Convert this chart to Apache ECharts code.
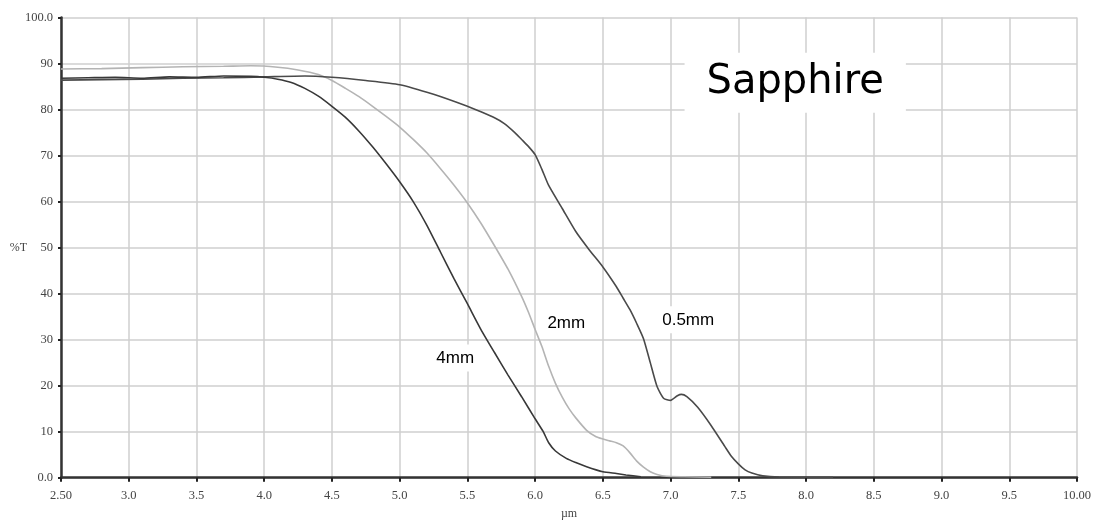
<!DOCTYPE html>
<html>
<head>
<meta charset="utf-8">
<script src="https://cdn.jsdelivr.net/npm/echarts@6/dist/echarts.min.js"></script>
<style>
html,body{margin:0;padding:0;background:#fff;}
#chart{width:1096px;height:523px;}
</style>
</head>
<body>
<div id="chart"></div>
<script>
// wavelength (µm) and transmission (%T) for each thickness
const wl4mm = [2.5, 2.7, 2.9, 3.1, 3.3, 3.5, 3.7, 3.9, 4.0, 4.1, 4.2, 4.3, 4.4, 4.5, 4.6, 4.7, 4.8, 4.9, 5.0, 5.1, 5.2, 5.3, 5.4, 5.5, 5.6, 5.7, 5.8, 5.9, 6.0, 6.06, 6.1, 6.15, 6.23, 6.3, 6.38, 6.45, 6.5, 6.6, 6.67, 6.78];
const t4mm  = [86.8, 86.9, 87.0, 86.8, 87.1, 87.0, 87.3, 87.2, 87.0, 86.6, 85.9, 84.6, 82.9, 80.7, 78.3, 75.3, 71.9, 68.2, 64.3, 60.0, 54.9, 49.1, 43.3, 37.8, 32.2, 27.2, 22.3, 17.6, 12.8, 10.0, 7.6, 5.8, 4.2, 3.3, 2.4, 1.7, 1.3, 0.9, 0.6, 0.2];

const wl2mm = [2.5, 2.8, 3.1, 3.4, 3.7, 3.9, 4.1, 4.25, 4.4, 4.5, 4.6, 4.7, 4.8, 4.9, 5.0, 5.1, 5.2, 5.3, 5.4, 5.5, 5.6, 5.7, 5.8, 5.9, 5.95, 6.0, 6.05, 6.1, 6.15, 6.2, 6.25, 6.3, 6.38, 6.45, 6.5, 6.55, 6.6, 6.65, 6.7, 6.75, 6.8, 6.85, 6.9, 6.97, 7.1, 7.3];
const t2mm  = [88.8, 88.9, 89.1, 89.3, 89.4, 89.5, 89.2, 88.6, 87.6, 86.3, 84.6, 82.8, 80.7, 78.5, 76.2, 73.5, 70.6, 67.2, 63.6, 59.7, 55.3, 50.4, 45.3, 39.4, 36.0, 32.2, 28.5, 24.2, 20.5, 17.5, 15.0, 13.0, 10.3, 8.9, 8.4, 8.0, 7.6, 6.9, 5.4, 3.6, 2.3, 1.3, 0.7, 0.3, 0.2, 0.1];

const wl05mm = [2.5, 2.8, 3.1, 3.4, 3.7, 4.0, 4.3, 4.5, 4.75, 5.0, 5.25, 5.5, 5.6, 5.7, 5.77, 5.85, 5.9, 5.95, 6.0, 6.05, 6.1, 6.2, 6.3, 6.4, 6.5, 6.6, 6.65, 6.7, 6.75, 6.8, 6.85, 6.9, 6.95, 7.0, 7.05, 7.08, 7.12, 7.2, 7.3, 7.4, 7.45, 7.5, 7.55, 7.6, 7.68, 7.8, 8.2];
const t05mm  = [86.4, 86.5, 86.6, 86.8, 86.9, 87.1, 87.3, 87.0, 86.3, 85.4, 83.3, 80.7, 79.5, 78.2, 77.0, 75.0, 73.5, 72.0, 70.2, 67.0, 63.5, 58.5, 53.5, 49.5, 45.8, 41.5, 39.0, 36.5, 33.5, 30.2, 25.0, 19.8, 17.2, 16.8, 17.8, 18.1, 17.6, 15.3, 11.3, 6.8, 4.6, 3.0, 1.7, 1.0, 0.4, 0.15, 0.1];

// annotation texts and anchor positions (data coordinates)
const labelTexts = ['4mm', '2mm', '0.5mm'];
const labelX = [5.41, 6.23, 7.13];
const labelY = [26.0, 33.6, 34.3];
const titleText = 'Sapphire';
const titleX = 7.92, titleY = 85.8;

const zip = (a, b) => a.map((v, i) => [v, b[i]]);

const chart = echarts.init(document.getElementById('chart'));
const serif = '"Liberation Serif", "Times New Roman", serif';

const lineSeries = (name, data, color) => ({
  name, type: 'line', data, showSymbol: false, smooth: 0.2,
  lineStyle: { color, width: 1.6 }, z: 3, silent: true
});

chart.setOption({
  animation: false,
  grid: { left: 61, right: 19, top: 17.5, bottom: 45.3, containLabel: false, outerBoundsMode: 'none' },
  xAxis: {
    type: 'value', min: 2.5, max: 10, interval: 0.5,
    name: 'µm', nameLocation: 'middle', nameGap: 30, nameMoveOverlap: false,
    nameTextStyle: { fontFamily: serif, fontSize: 12, color: '#444' },
    axisLine: { show: true, lineStyle: { color: '#333', width: 2.5 } },
    axisTick: { show: true, length: 4, lineStyle: { color: '#222', width: 2 } },
    axisLabel: {
      fontFamily: serif, fontSize: 12.5, color: '#444', margin: 12,
      formatter: v => (v === 2.5 ? '2.50' : v === 10 ? '10.00' : v.toFixed(1))
    },
    splitLine: { show: true, lineStyle: { color: '#cfcfcf', width: 1.5 } }
  },
  yAxis: {
    type: 'value', min: 0, max: 100, interval: 10,
    name: '%T', nameLocation: 'middle', nameGap: 34, nameRotate: 0, nameMoveOverlap: false,
    nameTextStyle: { fontFamily: serif, fontSize: 12, color: '#444' },
    axisLine: { show: true, lineStyle: { color: '#333', width: 2.5 } },
    axisTick: { show: true, length: 3, lineStyle: { color: '#222', width: 2 } },
    axisLabel: {
      fontFamily: serif, fontSize: 12.5, color: '#444', margin: 8,
      formatter: v => (v === 0 ? '0.0' : v === 100 ? '100.0' : String(v))
    },
    splitLine: { show: true, lineStyle: { color: '#cfcfcf', width: 1.5 } }
  },
  series: [
    lineSeries('2mm', zip(wl2mm, t2mm), '#b4b4b4'),
    lineSeries('0.5mm', zip(wl05mm, t05mm), '#4a4a4a'),
    lineSeries('4mm', zip(wl4mm, t4mm), '#383838'),
    {
      type: 'scatter', silent: true, z: 5, symbolSize: 1,
      itemStyle: { color: 'rgba(0,0,0,0)' },
      data: labelTexts.map((t, i) => ({ value: [labelX[i], labelY[i]], name: t })),
      label: {
        show: true, position: 'inside', formatter: p => p.name,
        fontFamily: '"Liberation Sans", Arial, sans-serif', fontSize: 17, color: '#000',
        opacity: 1, backgroundColor: '#fff', padding: [5, 6]
      }
    },
    {
      type: 'scatter', silent: true, z: 5, symbolSize: 1,
      itemStyle: { color: 'rgba(0,0,0,0)' },
      data: [{ value: [titleX, titleY], name: titleText }],
      label: {
        show: true, position: 'inside', formatter: p => p.name,
        fontFamily: '"DejaVu Sans", sans-serif', fontSize: 40, color: '#000',
        opacity: 1, backgroundColor: '#fff', padding: [10, 22]
      }
    }
  ]
});
</script>
</body>
</html>
